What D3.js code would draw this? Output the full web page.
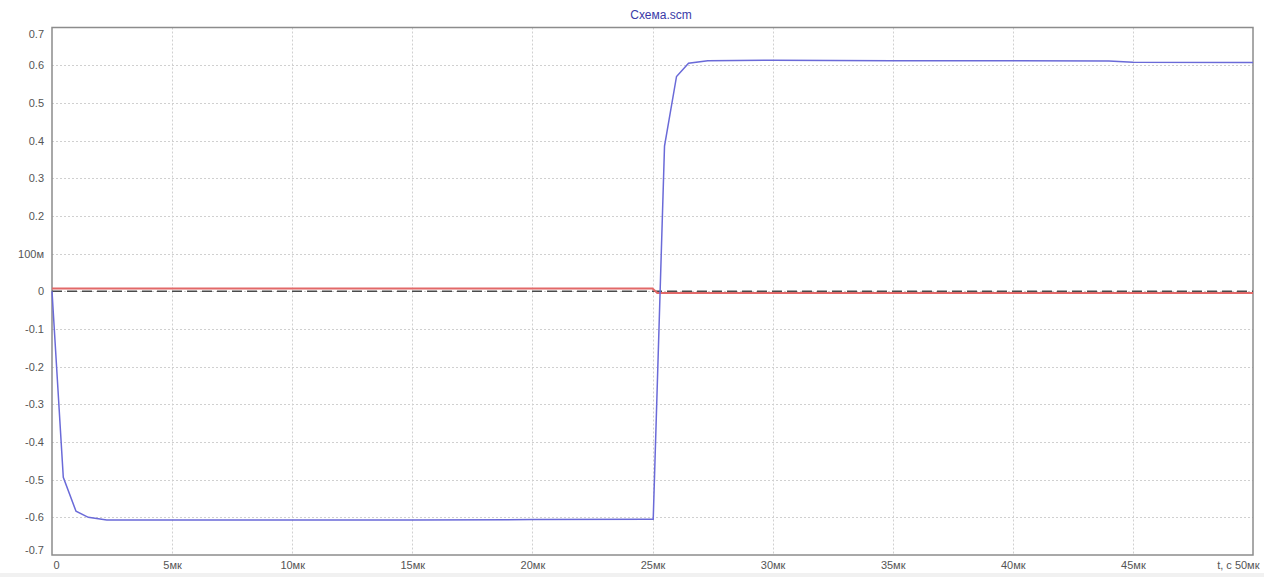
<!DOCTYPE html>
<html><head><meta charset="utf-8">
<script src="https://cdn.jsdelivr.net/npm/d3@7"></script>
<style>
html,body{margin:0;padding:0;background:#fff;}
svg{display:block;font-family:"Liberation Sans",Arial,sans-serif;}
</style></head>
<body><svg id="c" width="1264" height="577"></svg>
<script>
const title = "Схема.scm";
// time in microseconds
const blueT = [0, 0.47, 1.0, 1.51, 2.28, 5, 10, 15, 20, 24.9, 25.03, 25.5, 26.0, 26.5, 27.3, 30, 35, 40, 44, 45, 50];
const blueV = [0, -0.494, -0.584, -0.600, -0.607, -0.607, -0.607, -0.607, -0.606, -0.605, -0.605, 0.385, 0.57, 0.605, 0.612, 0.613, 0.612, 0.612, 0.611, 0.608, 0.607];
const redT = [0, 25.0, 25.2, 50];
const redV = [0.0075, 0.0075, -0.0045, -0.0045];
const dashT = [0, 50];
const dashV = [0, 0];
const yTicks = [0.7, 0.6, 0.5, 0.4, 0.3, 0.2, 0.1, 0, -0.1, -0.2, -0.3, -0.4, -0.5, -0.6, -0.7];
const yTickLabels = ["0.7", "0.6", "0.5", "0.4", "0.3", "0.2", "100м", "0", "-0.1", "-0.2", "-0.3", "-0.4", "-0.5", "-0.6", "-0.7"];
const xTicks = [0, 5, 10, 15, 20, 25, 30, 35, 40, 45, 50];
const xTickLabels = ["0", "5мк", "10мк", "15мк", "20мк", "25мк", "30мк", "35мк", "40мк", "45мк", "t, c 50мк"];

const svg = d3.select("#c");
const L = 52, R = 1253, T = 27.5, B = 555;
const x = d3.scaleLinear().domain([0, 50]).range([L, R]);
const y = d3.scaleLinear().domain([-0.7, 0.7]).range([B, T]);

// bottom strip
svg.append("rect").attr("x", 0).attr("y", 573).attr("width", 1264).attr("height", 4).attr("fill", "#f1f1f1");

// grid
const g = svg.append("g");
g.selectAll("line.vx").data(xTicks.slice(1, -1)).join("line")
  .attr("x1", d => Math.round(x(d)) + 0.5).attr("x2", d => Math.round(x(d)) + 0.5)
  .attr("y1", T).attr("y2", B)
  .attr("stroke", "#d0d0d0").attr("stroke-width", 1).attr("stroke-dasharray", "2,2");
g.selectAll("line.hy").data(yTicks.slice(1, -1)).join("line")
  .attr("y1", d => Math.round(y(d)) + 0.5).attr("y2", d => Math.round(y(d)) + 0.5)
  .attr("x1", L).attr("x2", R)
  .attr("stroke", "#d0d0d0").attr("stroke-width", 1).attr("stroke-dasharray", "2,2");

// frame
svg.append("rect").attr("x", L).attr("y", T).attr("width", R - L).attr("height", B - T)
  .attr("fill", "none").attr("stroke", "#8c8c8c").attr("stroke-width", 1.5);

const line = d3.line().x(d => x(d[0])).y(d => y(d[1]));

// dashed zero series
svg.append("path").datum(dashT.map((t, i) => [t, dashV[i]]))
  .attr("d", line).attr("fill", "none").attr("stroke", "#4a4a4a").attr("stroke-width", 1.6)
  .attr("stroke-dasharray", "10,5");
// red series
svg.append("path").datum(redT.map((t, i) => [t, redV[i]]))
  .attr("d", line).attr("fill", "none").attr("stroke", "#e26868").attr("stroke-width", 2);
// blue series
svg.append("path").datum(blueT.map((t, i) => [t, blueV[i]]))
  .attr("d", line).attr("fill", "none").attr("stroke", "#6a6ad8").attr("stroke-width", 1.5);

// y axis labels
const yAxis = d3.axisLeft(y).tickValues(yTicks).tickSize(0).tickPadding(8)
  .tickFormat((d, i) => yTickLabels[i]);
const ya = svg.append("g").attr("transform", `translate(${L},0)`).call(yAxis);
ya.select(".domain").remove();
ya.selectAll("text").attr("fill", "#555").attr("font-size", 11)
  .attr("font-family", "'Liberation Sans',Arial,sans-serif")
  .attr("dy", (d, i) => i === 0 ? "0.95em" : (i === yTicks.length - 1 ? "-0.15em" : "0.32em"));

// x axis labels
const xAxis = d3.axisBottom(x).tickValues(xTicks).tickSize(0).tickPadding(6)
  .tickFormat((d, i) => xTickLabels[i]);
const xa = svg.append("g").attr("transform", `translate(0,${B})`).call(xAxis);
xa.select(".domain").remove();
xa.selectAll("text").attr("fill", "#555").attr("font-size", 11)
  .attr("font-family", "'Liberation Sans',Arial,sans-serif")
  .attr("text-anchor", (d, i) => i === 0 ? "start" : (i === xTicks.length - 1 ? "end" : "middle"))
  .attr("dx", (d, i) => i === 0 ? 1 : (i === xTicks.length - 1 ? 6 : 0));

// title
svg.append("text").attr("x", 661).attr("y", 19).attr("text-anchor", "middle")
  .attr("font-size", 12).attr("fill", "#3a3aa8").text(title);
</script></body></html>
